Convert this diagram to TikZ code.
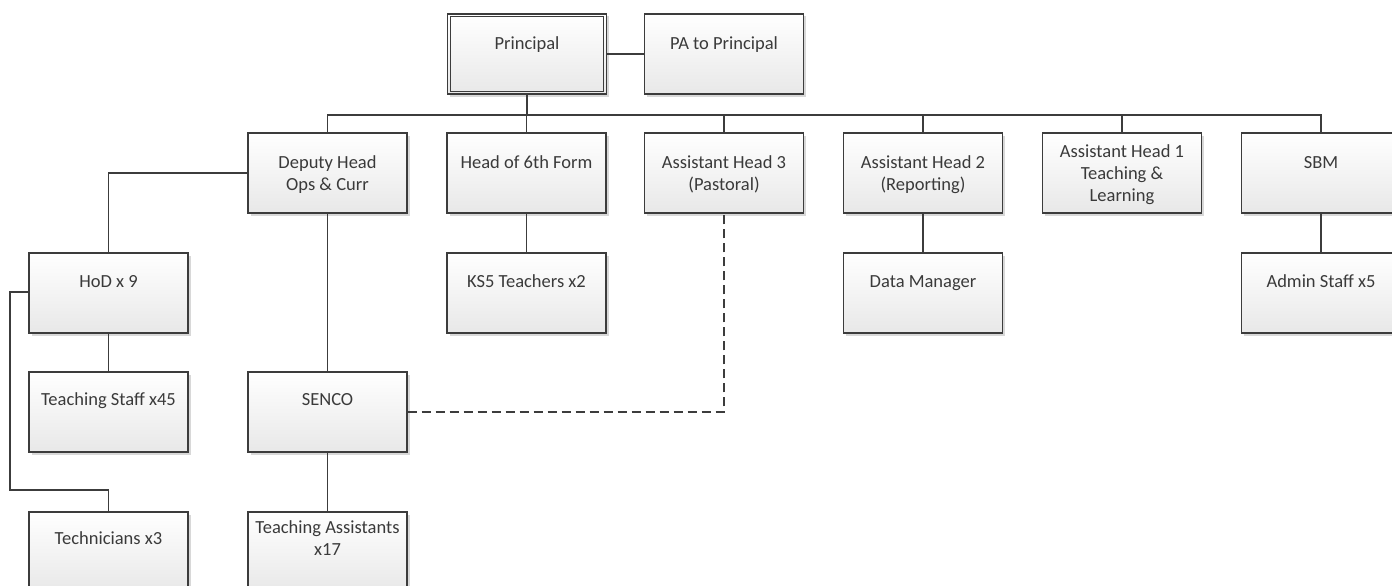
\documentclass[tikz,border=0pt]{standalone}
\usepackage{fontspec}
\setmainfont{Carlito}
\usetikzlibrary{shadows,calc}
\definecolor{edge}{HTML}{3C3C3C}
\definecolor{txtc}{HTML}{3A3A3A}
\tikzset{
  box/.style={draw=edge, line width=1.3pt, rectangle, minimum width=159pt, minimum height=80pt, inner sep=0pt,
    top color=white, bottom color=black!9,
    drop shadow={shadow xshift=2.5pt, shadow yshift=-2.5pt, fill=black!25, opacity=0.6}},
  lbl/.style={anchor=base, inner sep=0pt, align=center, text=txtc, font={\fontsize{18.5}{22}\selectfont}},
  conn/.style={draw=edge, line width=1.4pt},
  dconn/.style={draw=edge, line width=1.4pt, dash pattern=on 9pt off 5pt}
}
\begin{document}
\begin{tikzpicture}[x=1pt,y=-1pt]
\useasboundingbox[fill=white] (0,0) rectangle (1392,586);
\clip (0,0) rectangle (1392,586);
% nodes
\node[box] (pr) at (527,54) {};
\draw[draw=edge, line width=1.3pt] ([shift={(3.5,3.5)}]pr.north west) rectangle ([shift={(-3.5,-3.5)}]pr.south east);
\node[box] (pa) at (724,54) {};
\node[box] (dh) at (327.5,173) {};
\node[box] (h6) at (526.5,173) {};
\node[box] (ah3) at (724,173) {};
\node[box] (ah2) at (923,173) {};
\node[box] (ah1) at (1122,173) {};
\node[box] (sbm) at (1321,173) {};
\node[box] (hod) at (108.5,293) {};
\node[box] (ks5) at (526.5,293) {};
\node[box] (dm) at (923,293) {};
\node[box] (adm) at (1321,293) {};
\node[box] (ts) at (108.5,412) {};
\node[box] (sen) at (327.5,412) {};
\node[box] (tec) at (108.5,552) {};
\node[box] (ta) at (327.5,552) {};
% labels (anchor = baseline of last line)
\node[lbl] (pr-t) at (527,49) {Principal};
\node[lbl] (pa-t) at (724,49) {PA to Principal};
\node[lbl] (dh-t) at (327.5,190) {Deputy Head\\Ops \& Curr};
\node[lbl] (h6-t) at (526.5,168) {Head of 6th Form};
\node[lbl] (ah3-t) at (724,190) {Assistant Head 3\\(Pastoral)};
\node[lbl] (ah2-t) at (923,190) {Assistant Head 2\\(Reporting)};
\node[lbl] (ah1-t) at (1122,201) {Assistant Head 1\\Teaching \&\\Learning};
\node[lbl] (sbm-t) at (1321,168) {SBM};
\node[lbl] (hod-t) at (108.5,287) {HoD x 9};
\node[lbl] (ks5-t) at (526.5,287) {KS5 Teachers x2};
\node[lbl] (dm-t) at (923,287) {Data Manager};
\node[lbl] (adm-t) at (1321,287) {Admin Staff x5};
\node[lbl] (ts-t) at (108.5,405) {Teaching Staff x45};
\node[lbl] (sen-t) at (327.5,405) {SENCO};
\node[lbl] (tec-t) at (108.5,544) {Technicians x3};
\node[lbl] (ta-t) at (327.5,555) {Teaching Assistants\\x17};
% connectors
\coordinate (bus) at (527,115);
\path[conn] (pr.east) -- (pa.west);
\path[conn] (pr.south) -- (bus);
\path[conn] (dh.north) |- (bus);
\path[conn] (sbm.north) |- (bus);
\path[conn] (h6.north) -- (h6.north |- bus);
\path[conn] (ah3.north) -- (ah3.north |- bus);
\path[conn] (ah2.north) -- (ah2.north |- bus);
\path[conn] (ah1.north) -- (ah1.north |- bus);
\path[conn] (dh.west) -| (hod.north);
\path[conn] (dh.south) -- (sen.north);
\path[conn] (h6.south) -- (ks5.north);
\path[conn] (ah2.south) -- (dm.north);
\path[conn] (sbm.south) -- (adm.north);
\path[conn] (hod.south) -- (ts.north);
\path[conn] (sen.south) -- (ta.north);
\coordinate (hl) at (10,292);
\coordinate (hb) at (10,490);
\path[conn] (hod.west |- hl) -- (hl) -- (hb) -| (tec.north);
\path[dconn] (sen.east) -| (ah3.south);
\end{tikzpicture}
\end{document}
